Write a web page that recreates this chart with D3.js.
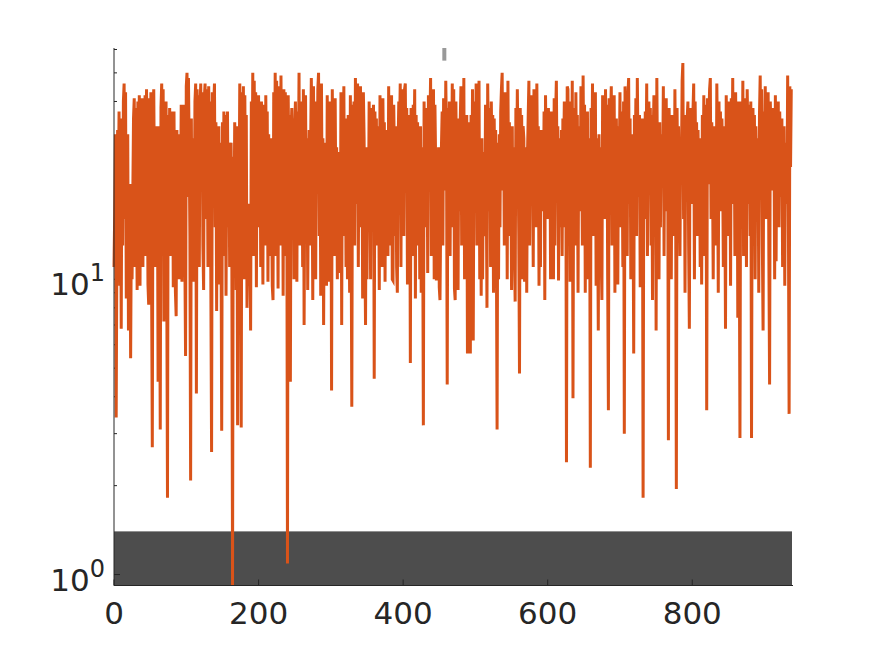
<!DOCTYPE html>
<html>
<head>
<meta charset="utf-8">
<script src="https://d3js.org/d3.v7.min.js"></script>
<style>
  body { margin: 0; background: #fff; }
  svg { display: block; font-family: "DejaVu Sans", sans-serif; }
  .lbl { fill: #262626; }
</style>
</head>
<body>
<svg id="chart" width="875" height="656"></svg>
<script>
// values, one per sample
var values = [
  11, 17, 31, 3.4, 13, 32, 19, 37, 9.5, 30, 6.8, 35, 13, 40, 46, 16, 43, 8.6, 24, 31,
  6.7, 13, 21, 5.4, 15, 10, 19, 35, 41, 11, 38, 22, 9.2, 40, 14, 42, 9.5, 36, 18, 41,
  11, 39, 24, 42, 12, 44, 26, 9.6, 8.2, 41, 16, 43, 10, 2.7, 38, 44, 19, 11, 33, 15,
  26, 4.5, 33, 13, 3.1, 38, 46, 18, 44, 7.2, 40, 16, 40, 10, 1.82, 36, 24, 38, 12, 37,
  19, 35, 9.4, 37, 14, 9, 7.5, 32, 13, 29, 10, 31, 18, 39, 9.8, 36, 21, 39, 12, 5.5,
  45, 50, 19, 48, 28, 14, 2.08, 35, 13, 30, 9.8, 15, 40, 46, 4.1, 44, 19, 42, 11, 38,
  46, 24, 43, 13, 9.2, 41, 46, 16, 44, 30, 11, 45, 22, 40, 9.5, 2.6, 43, 18, 39, 46,
  15, 34, 7.8, 30, 12, 33, 9.6, 29, 16, 3.07, 34, 12, 37, 20, 36, 8.8, 30, 37, 15, 29,
  11, 27, 29, 13, 0.92, 26, 14, 34, 24, 9.2, 33, 3.2, 30, 18, 46, 13, 3.15, 43, 21, 45,
  10, 42, 16, 36, 8, 13, 18, 9.5, 15, 6.7, 40, 20, 50, 12, 47, 17, 43, 9.4, 38, 24,
  42, 15, 35, 11, 40, 21, 9.6, 39, 25, 13, 42, 18, 37, 9.8, 31, 16, 12, 30, 19, 9.5,
  8.5, 43, 16, 50, 12, 47, 22, 9.3, 45, 27, 13, 49, 20, 38, 8.8, 44, 18, 43, 12, 30,
  1.09, 42, 21, 36, 4.5, 31, 38, 14, 35, 10, 33, 40, 17, 9.8, 37, 22, 50, 13, 35, 19,
  40, 11, 44, 7.0, 23, 42, 15, 30, 9.2, 21, 32, 13, 28, 48, 25, 8.5, 45, 18, 40, 10,
  33, 21, 44, 50, 14, 38, 8.8, 46, 18, 30, 7.0, 22, 11, 29, 9.5, 42, 16, 37, 9.8, 40,
  39, 4.2, 44, 20, 34, 12, 41, 16, 28, 10, 26, 13, 27, 10.5, 43, 7.0, 38, 23, 45, 14,
  35, 11, 30, 10, 36, 18, 9, 42, 16, 3.7, 39, 21, 40, 13, 48, 27, 18, 46, 11, 36,
  22, 45, 15, 34, 8.6, 43, 30, 13, 7.0, 28, 10, 26, 16, 40, 23, 10, 38, 17, 33, 39,
  4.6, 37, 21, 35, 13, 33, 25, 9.2, 42, 18, 38, 11, 41, 22, 34, 9.8, 31, 16, 32, 12,
  45, 13, 36, 20, 42, 10, 9.9, 39, 25, 14, 33, 11, 9, 28, 40, 31, 46, 11, 44, 19,
  33, 14, 44, 46, 21, 38, 9.6, 36, 18, 35, 5.2, 38, 13, 12, 39, 26, 44, 8.6, 36, 20,
  34, 13, 30, 10, 33, 9, 28, 18, 3.2, 40, 22, 38, 15, 37, 10.5, 42, 21, 33, 48, 12,
  35, 19, 44, 10, 39, 25, 9.9, 26, 12, 28, 9.4, 8.5, 16, 28, 37, 13, 41, 27, 20, 47,
  30, 4.4, 38, 18, 40, 12, 35, 23, 46, 15, 44, 9.3, 8.5, 40, 21, 35, 9.2, 31, 17, 34,
  45, 13, 38, 22, 48, 10, 33, 19, 36, 5.6, 30, 12, 34, 5.6, 36, 16, 44, 6.2, 31, 40,
  20, 46, 13, 37, 23, 47, 10, 25, 8.8, 30, 10, 27, 16, 14, 39, 21, 8.0, 46, 28, 17,
  38, 11, 40, 24, 36, 9, 35, 19, 32, 13, 3.1, 29, 10, 31, 15, 37, 44, 50, 20, 35,
  13, 43, 25, 39, 10, 47, 18, 34, 14, 30, 9.2, 33, 11, 28, 12, 8.4, 38, 21, 44, 26,
  14, 4.8, 38, 20, 36, 10, 33, 30, 9.8, 17, 28, 9, 26, 35, 47, 13, 37, 19, 42, 27,
  11, 44, 23, 38, 15, 46, 21, 33, 9.5, 28, 11, 32, 18, 30, 17, 37, 8.5, 42, 24, 36,
  16, 38, 22, 35, 10, 37, 27, 19, 10, 41, 13, 36, 47, 21, 33, 9.9, 30, 15, 18, 32,
  12, 35, 23, 40, 15, 37, 2.4, 45, 44, 20, 33, 9.8, 40, 18, 47, 3.95, 31, 38, 13, 43,
  21, 36, 9, 33, 24, 17, 45, 28, 13, 49, 22, 39, 9.0, 34, 19, 37, 10, 30, 26, 2.3,
  38, 20, 46, 14, 35, 23, 43, 9.5, 30, 18, 6.7, 31, 14, 28, 12, 8.5, 42, 21, 34, 16,
  44, 24, 39, 10, 3.6, 41, 19, 36, 45, 13, 33, 22, 42, 9, 30, 35, 17, 9.6, 33, 23,
  43, 15, 37, 26, 11, 40, 3.0, 45, 21, 35, 12, 42, 48, 18, 35, 10, 31, 27, 20, 5.6,
  36, 23, 41, 14, 48, 27, 19, 36, 9.4, 34, 22, 35, 1.82, 30, 16, 37, 24, 46, 12, 34,
  40, 20, 38, 13, 36, 8.5, 31, 42, 18, 38, 6.7, 48, 22, 30, 10, 34, 15, 31, 27, 21,
  45, 12, 37, 24, 41, 17, 34, 2.85, 38, 20, 36, 10, 35, 25, 36, 14, 44, 22, 1.95, 38,
  19, 33, 22, 12, 30, 23, 47, 54, 16, 36, 9, 35, 21, 35, 40, 13, 6.8, 38, 24, 36,
  18, 37, 46, 10, 40, 22, 34, 14, 32, 19, 30, 11, 28, 9.6, 36, 20, 42, 12, 33, 39,
  3.6, 41, 21, 35, 44, 48, 16, 34, 24, 10, 33, 19, 29, 13, 46, 26, 9, 40, 22, 37,
  17, 35, 25, 11, 33, 21, 6.8, 42, 28, 14, 40, 20, 37, 9.5, 41, 24, 48, 18, 36, 12,
  43, 23, 38, 7.4, 40, 16, 2.9, 35, 40, 20, 47, 12, 33, 41, 22, 11, 44, 30, 18, 39,
  14, 40, 2.9, 34, 38, 21, 36, 10, 33, 22, 18, 30, 9, 36, 49, 22, 44, 13, 6.7, 37,
  27, 45, 16, 39, 23, 43, 12, 4.4, 40, 29, 20, 38, 24, 33, 10, 42, 11.5, 36, 21, 40,
  15, 37, 26, 19, 35, 11, 30, 33, 9.5, 29, 22, 18, 49, 17, 3.5, 45, 24, 44
];

var xTicks = [0, 200, 400, 600, 800];
var yMajor = [1, 10];
var yMinor = [2, 3, 4, 5, 6, 7, 8, 9, 20, 30, 40, 50, 60];
var xLimits = [0, 938];
var yLimits = [0.918, 60.7];
var bandTop = 1.4;        // top of the dark band
var markerX = 457;        // small grey mark at the top edge
var markerLow = 55;

var svg = d3.select("#chart");
var plotL = 114, plotR = 792, plotT = 48, plotB = 585.5;

var x = d3.scaleLinear().domain(xLimits).range([plotL, plotR]);
var y = d3.scaleLog().domain(yLimits).range([plotB, plotT]);

// dark band along the bottom
svg.append("rect")
  .attr("x", x(xLimits[0]))
  .attr("y", y(bandTop))
  .attr("width", x(xLimits[1]) - x(xLimits[0]))
  .attr("height", y(yLimits[0]) - y(bandTop))
  .attr("fill", "#4d4d4d");

// x ticks (inward)
svg.append("g").selectAll("line").data(xTicks).join("line")
  .attr("x1", d => x(d)).attr("x2", d => x(d))
  .attr("y1", plotB).attr("y2", plotB - 6)
  .attr("stroke", "#262626");

// y ticks (inward)
svg.append("g").selectAll("line").data(yMajor).join("line")
  .attr("x1", plotL).attr("x2", plotL + 6)
  .attr("y1", d => y(d)).attr("y2", d => y(d))
  .attr("stroke", "#262626");
svg.append("g").selectAll("line").data(yMinor).join("line")
  .attr("x1", plotL).attr("x2", plotL + 3)
  .attr("y1", d => y(d)).attr("y2", d => y(d))
  .attr("stroke", "#262626");

// the series
var line = d3.line()
  .x((d, i) => x(i))
  .y(d => y(d));

svg.append("path")
  .datum(values)
  .attr("d", line)
  .attr("fill", "none")
  .attr("stroke", "#d95319")
  .attr("stroke-width", 3)
  .attr("stroke-linejoin", "miter");

// grey mark at the top
svg.append("rect")
  .attr("x", x(markerX) - 2)
  .attr("y", y(yLimits[1]))
  .attr("width", 4)
  .attr("height", y(markerLow) - y(yLimits[1]))
  .attr("fill", "#999999");

// axis lines
svg.append("path")
  .attr("d", "M" + plotL + "," + plotT + "V" + plotB + "H" + (plotR + 1))
  .attr("fill", "none")
  .attr("stroke", "#262626")
  .attr("stroke-width", 1);

// tick labels
svg.append("g").selectAll("text").data(xTicks).join("text")
  .attr("class", "lbl")
  .attr("x", d => x(d))
  .attr("y", 624)
  .attr("text-anchor", "middle")
  .attr("font-size", 31)
  .text(d => d);

var yl = svg.append("g").selectAll("text").data(yMajor).join("text")
  .attr("class", "lbl")
  .attr("x", 105)
  .attr("y", d => y(d) + 16)
  .attr("text-anchor", "end")
  .attr("font-size", 31);
yl.append("tspan").text("10");
yl.append("tspan")
  .attr("dy", -14)
  .attr("font-size", 24)
  .text(d => Math.round(Math.log10(d)));
</script>
</body>
</html>
